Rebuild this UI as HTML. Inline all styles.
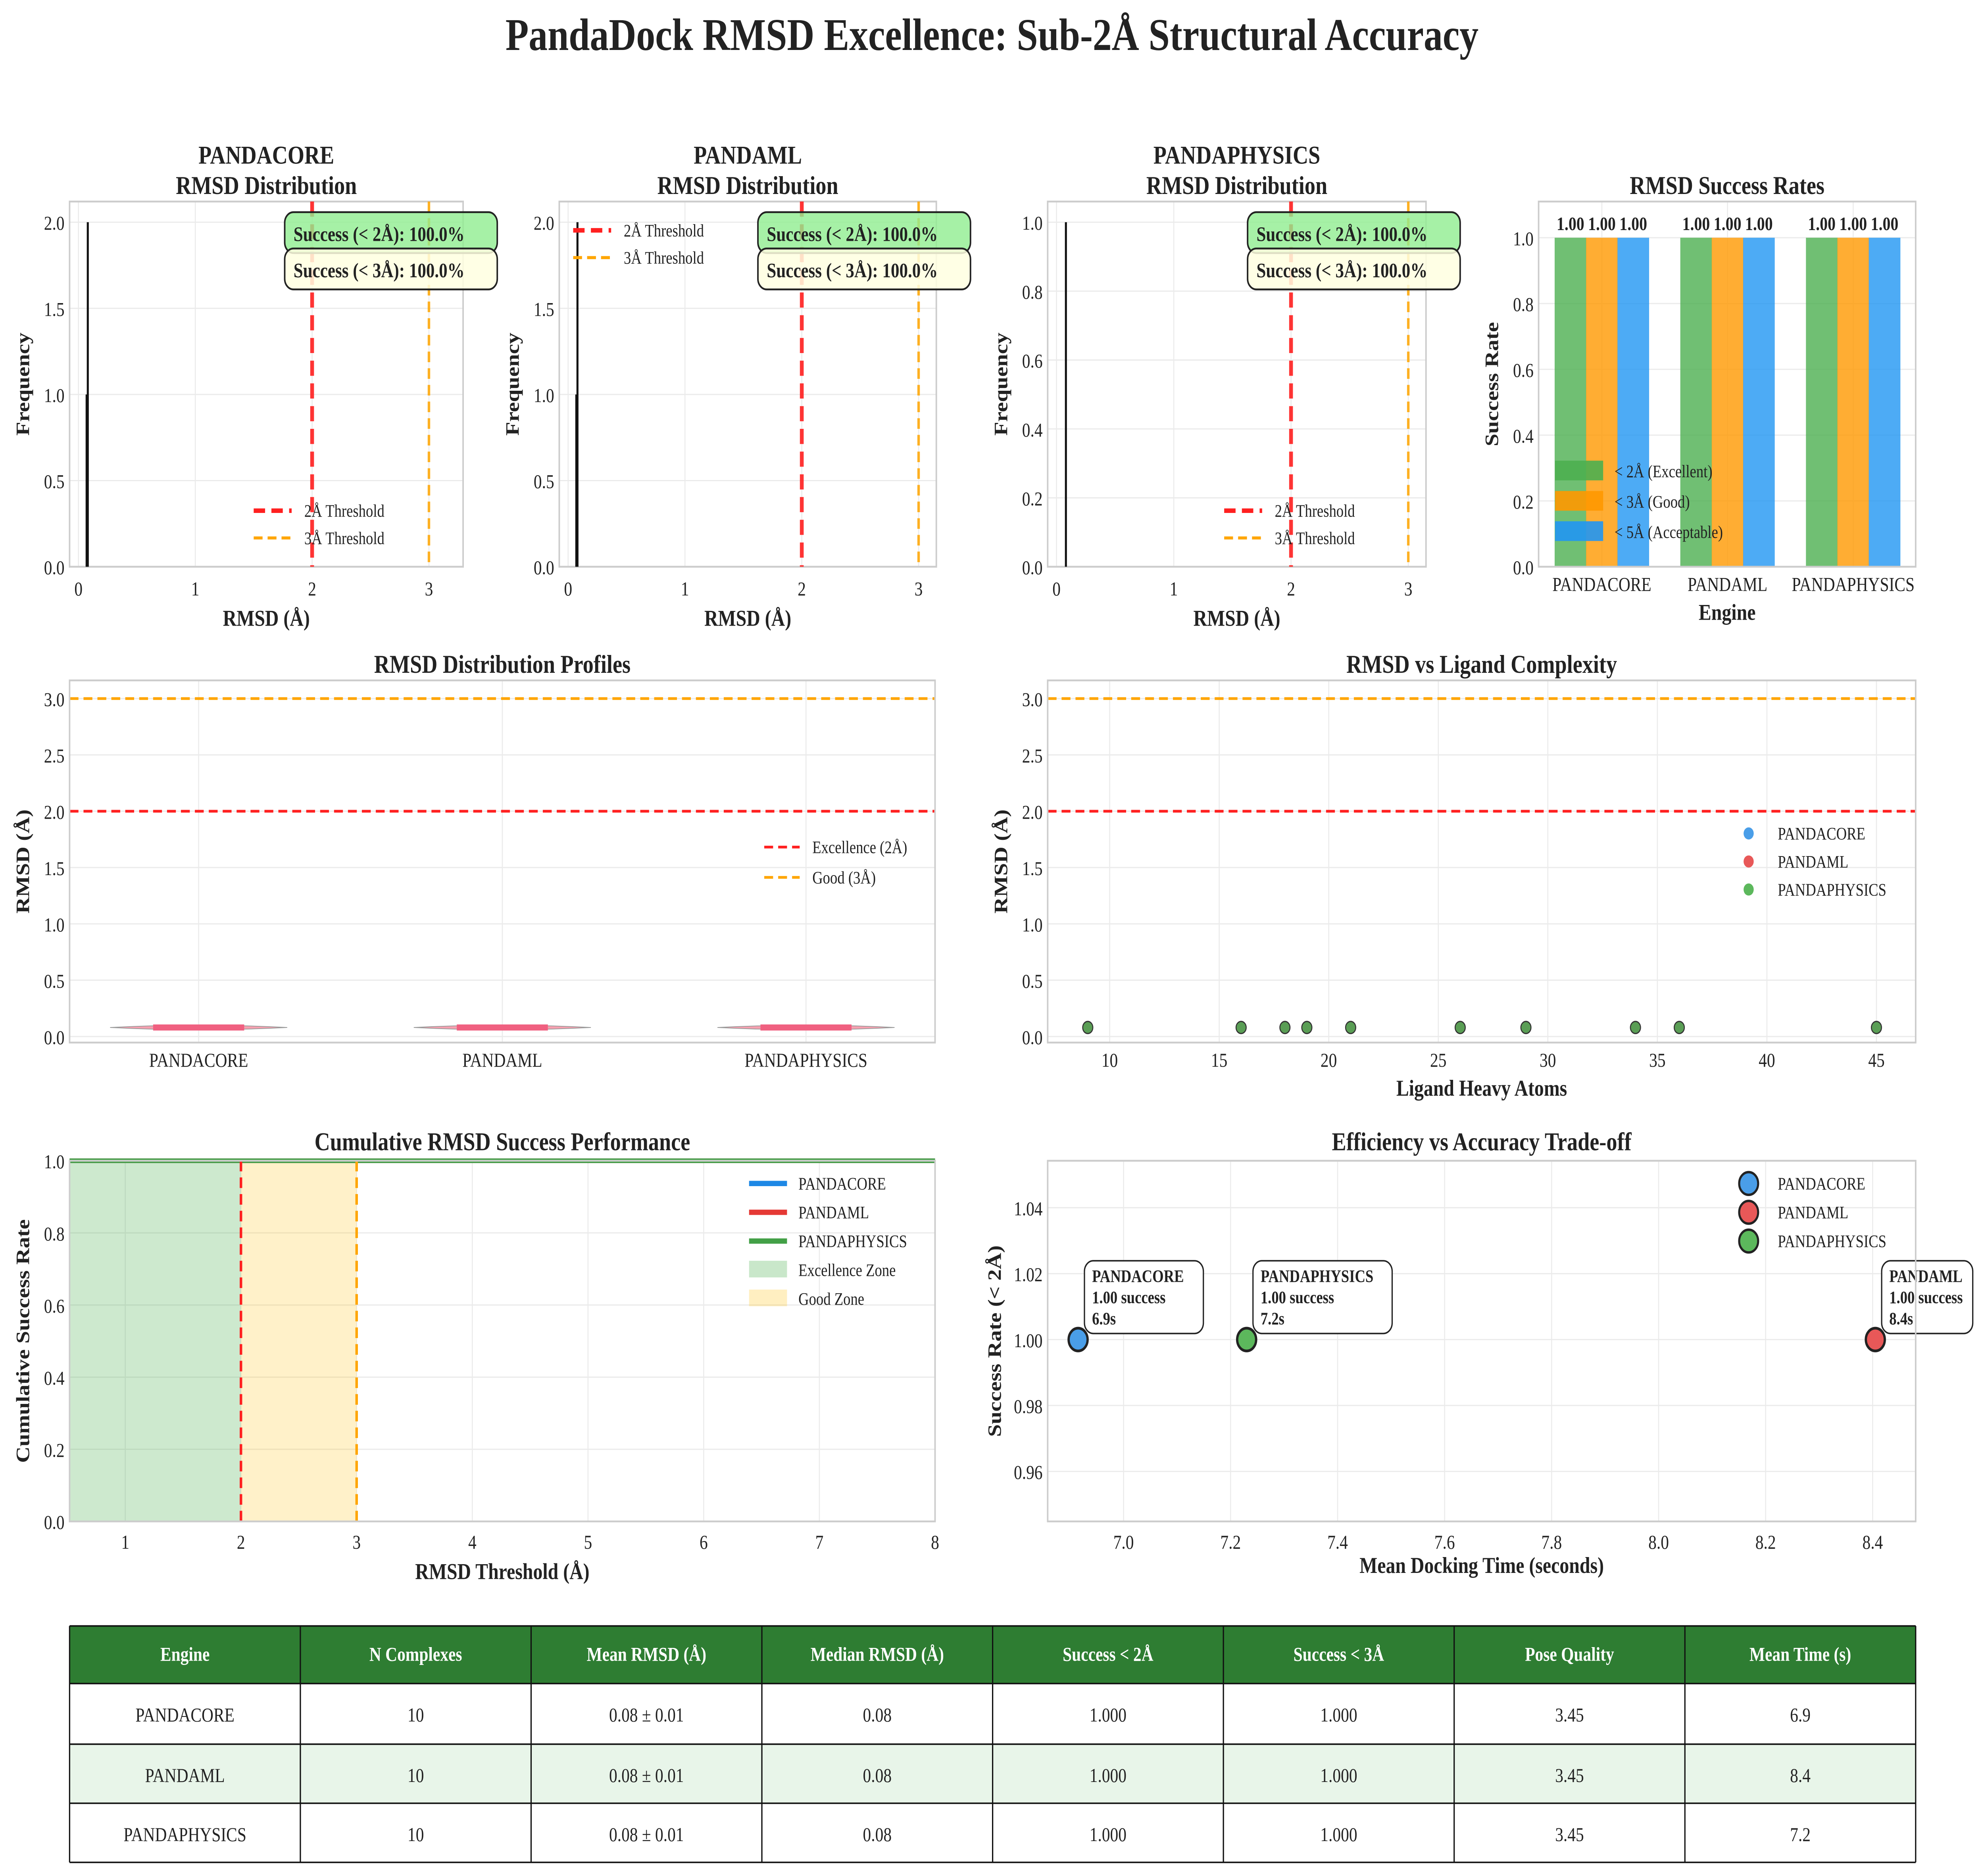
<!DOCTYPE html>
<html><head><meta charset="utf-8">
<style>
html,body{margin:0;padding:0;background:#fff;overflow:hidden;width:100%;height:100%;}
svg{display:block;position:absolute;left:0;top:0;width:100vw;height:100vh;font-family:"Liberation Serif","DejaVu Serif",serif;}
</style></head>
<body>
<svg id="fig" viewBox="0 0 1568 1238" preserveAspectRatio="none" xmlns="http://www.w3.org/2000/svg">
<text x="784" y="33" text-anchor="middle" font-size="30" font-weight="bold" fill="#222" font-family="Liberation Serif, serif">PandaDock RMSD Excellence: Sub-2Å Structural Accuracy</text>
</svg>
<script>
// ---------- DATA ----------
const engines = ["PANDACORE","PANDAML","PANDAPHYSICS"];
const histRmsd = [[0.07,0.08],[0.07,0.08],[0.08]];
const histCounts = [[1,2],[1,2],[1]];
const successCats = ["< 2Å (Excellent)","< 3Å (Good)","< 5Å (Acceptable)"];
const successVals = [[1.0,1.0,1.0],[1.0,1.0,1.0],[1.0,1.0,1.0]];
const violinMedian = [0.08,0.08,0.08];
const heavyAtoms = [9,16,18,19,21,26,29,34,36,45];
const complexRmsd = [0.08,0.08,0.08,0.08,0.08,0.08,0.08,0.08,0.08,0.08];
const cumThresholds = [0.5,1,2,3,4,5,6,7,8];
const cumCore = [1,1,1,1,1,1,1,1,1];
const cumML = [1,1,1,1,1,1,1,1,1];
const cumPhys = [1,1,1,1,1,1,1,1,1];
const meanTimes = [6.915,8.405,7.23];
const successRates = [1.0,1.0,1.0];
const timeLabels = ["6.9s","8.4s","7.2s"];
const tableHeader = ["Engine","N Complexes","Mean RMSD (Å)","Median RMSD (Å)","Success < 2Å","Success < 3Å","Pose Quality","Mean Time (s)"];
const tableRows = [
 ["PANDACORE","10","0.08 ± 0.01","0.08","1.000","1.000","3.45","6.9"],
 ["PANDAML","10","0.08 ± 0.01","0.08","1.000","1.000","3.45","8.4"],
 ["PANDAPHYSICS","10","0.08 ± 0.01","0.08","1.000","1.000","3.45","7.2"]];

// ---------- HELPERS ----------
const NS="http://www.w3.org/2000/svg";
const svg=document.getElementById('fig');
function el(tag,attrs,parent,text){
  const e=document.createElementNS(NS,tag);
  for(const k in attrs) e.setAttribute(k,attrs[k]);
  if(text!==undefined) e.textContent=text;
  (parent||svg).appendChild(e);
  return e;
}
function lin(d0,d1,r0,r1){return v=>r0+(v-d0)*(r1-r0)/(d1-d0);}
function frame(x0,y0,x1,y1,name){
  const r=el('rect',{x:x0,y:y0,width:x1-x0,height:y1-y0,fill:'none',stroke:'#ccc','stroke-width':1.2});
  
  
}
function grid(x0,y0,x1,y1,xs,ys){
  xs.forEach(x=>{const g=el('line',{x1:x,x2:x,y1:y0,y2:y1,stroke:'#ebebeb','stroke-width':0.8});});
  ys.forEach(y=>{const g=el('line',{x1:x0,x2:x1,y1:y,y2:y,stroke:'#ebebeb','stroke-width':0.8});});
}
function txt(x,y,s,opt){
  opt=opt||{};
  const t=el('text',{x:x,y:y,'font-size':opt.size||13,'text-anchor':opt.anchor||'middle',fill:opt.fill||'#222','font-weight':opt.bold?'bold':'normal','font-family':'Liberation Serif, serif'},null,s);
  if(opt.rot) t.setAttribute('transform',`rotate(-90 ${x} ${y})`);
  
  
  return t;
}
function fmt(v,d){return v.toFixed(d);}

// ---------- ROW 1: HISTOGRAMS ----------
const histPanels=[
 {x0:55,x1:366,zero:62,three:339,ymax:2.12,yt:[0,0.5,1,1.5,2],legendPos:'bottom'},
 {x0:442,x1:740,zero:449,three:726,ymax:2.12,yt:[0,0.5,1,1.5,2],legendPos:'top'},
 {x0:828,x1:1127,zero:835,three:1113,ymax:1.06,yt:[0,0.2,0.4,0.6,0.8,1.0],legendPos:'bottom'}];
histPanels.forEach((p,i)=>{
  const y0=133,y1=374;
  const X=lin(0,3,p.zero,p.three), Y=lin(0,p.ymax,y1,y0);
  const cx=(p.x0+p.x1)/2;
  txt(cx,108,engines[i],{size:17,bold:true,name:'hist-title'});
  txt(cx,128,'RMSD Distribution',{size:17,bold:true,name:'hist-subtitle'});
  grid(p.x0,y0,p.x1,y1,[0,1,2,3].map(X),p.yt.map(Y));
  frame(p.x0,y0,p.x1,y1,'hist-axes-'+engines[i].toLowerCase());
  [0,1,2,3].forEach(v=>txt(X(v),393,String(v),{size:13,name:'x-tick-label'}));
  p.yt.forEach(v=>txt(p.x0-4,Y(v)+5,fmt(v,1),{size:13,anchor:'end',name:'y-tick-label'}));
  txt(cx,413,'RMSD (Å)',{size:15,bold:true,name:'x-axis-title'});
  txt(p.x0-32,(y0+y1)/2,'Frequency',{size:15,bold:true,rot:true,name:'y-axis-title'});
  histRmsd[i].forEach((r,k)=>{
    const b=el('rect',{x:X(r)-0.8,y:Y(histCounts[i][k]),width:1.6,height:y1-Y(histCounts[i][k]),fill:'#111'});
    
    
  });
  const l2=el('line',{x1:X(2),x2:X(2),y1:y0,y2:y1,stroke:'#ff2020','stroke-width':3,'stroke-dasharray':'10,5','opacity':0.9});
  
  
  const l3=el('line',{x1:X(3),x2:X(3),y1:y0,y2:y1,stroke:'#ffa500','stroke-width':2,'stroke-dasharray':'7,4','opacity':0.85});
  
  
  const bx=p.x1-141;
  const g1=el('rect',{x:bx,y:140,width:168,height:27,rx:7,fill:'#90ee90','fill-opacity':0.8,stroke:'#222','stroke-width':1.2});
  
  
  txt(bx+7,159,'Success (< 2Å): 100.0%',{size:13.5,bold:true,anchor:'start',name:'success-2a-text'});
  const g2=el('rect',{x:bx,y:164,width:168,height:27,rx:7,fill:'#ffffe0','fill-opacity':0.85,stroke:'#222','stroke-width':1.2});
  
  
  txt(bx+7,183,'Success (< 3Å): 100.0%',{size:13.5,bold:true,anchor:'start',name:'success-3a-text'});
  let lx,ly;
  if(p.legendPos==='bottom'){lx=cx-10;ly=337;}else{lx=p.x0+11;ly=152;}
  const a=el('line',{x1:lx,x2:lx+30,y1:ly,y2:ly,stroke:'#ff2020','stroke-width':3,'stroke-dasharray':'9,5'});
  
  
  txt(lx+40,ly+4,'2Å Threshold',{size:11.5,anchor:'start',name:'legend-2a-label'});
  const b=el('line',{x1:lx,x2:lx+30,y1:ly+18,y2:ly+18,stroke:'#ffa500','stroke-width':2,'stroke-dasharray':'7,4'});
  
  
  txt(lx+40,ly+22,'3Å Threshold',{size:11.5,anchor:'start',name:'legend-3a-label'});
});

// ---------- ROW 1: SUCCESS RATES BAR ----------
(function(){
  const x0=1216,x1=1514,y0=133,y1=374;
  const X=lin(0,1,1266,1365.3), Y=lin(0,1.11,y1,y0);
  const colors=['#4caf50','#ff9800','#2196f3'];
  txt(1365,128,'RMSD Success Rates',{size:17,bold:true,name:'success-title'});
  grid(x0,y0,x1,y1,[0,1,2].map(X),[0,0.2,0.4,0.6,0.8,1.0].map(Y));
  [0,0.2,0.4,0.6,0.8,1.0].forEach(v=>txt(x0-4,Y(v)+5,fmt(v,1),{size:13,anchor:'end',name:'y-tick-label'}));
  engines.forEach((e,i)=>{
    txt(X(i),390,e,{size:13,name:'x-tick-label'});
    successVals[i].forEach((v,j)=>{
      const xc=X(i+(j-1)*0.25);
      const r=el('rect',{x:xc-12.5,y:Y(v),width:25,height:y1-Y(v),fill:colors[j],'fill-opacity':0.8});
      
      
      txt(xc,Y(v)-5,fmt(v,2),{size:12.5,bold:true,name:'bar-value-label'});
    });
  });
  frame(x0,y0,x1,y1,'success-axes');
  txt(1365,409,'Engine',{size:15,bold:true,name:'x-axis-title'});
  txt(x0-32,(y0+y1)/2,'Success Rate',{size:15,bold:true,rot:true,name:'y-axis-title'});
  successCats.forEach((c,j)=>{
    const r=el('rect',{x:1229,y:310+j*20-6,width:38,height:13,fill:colors[j],'fill-opacity':0.9});
    
    
    txt(1276,310+j*20+5,c,{size:11.5,anchor:'start',name:'legend-label'});
  });
})();

// ---------- ROW 2 LEFT: VIOLIN ----------
(function(){
  const x0=55,x1=739,y0=449,y1=688;
  const X=lin(0,1,157,397), Y=lin(0,3,684,461);
  txt(397,444,'RMSD Distribution Profiles',{size:17,bold:true,name:'violin-title'});
  grid(x0,y0,x1,y1,[0,1,2].map(X),[0,0.5,1,1.5,2,2.5,3].map(Y));
  [0,0.5,1,1.5,2,2.5,3].forEach(v=>txt(x0-4,Y(v)+5,fmt(v,1),{size:13,anchor:'end',name:'y-tick-label'}));
  engines.forEach((e,i)=>{
    txt(X(i),704,e,{size:13,name:'x-tick-label'});
    const cx=X(i),cy=Y(violinMedian[i]);
    const p=el('path',{d:`M${cx-70},${cy} Q${cx},${cy-3} ${cx+70},${cy} Q${cx},${cy+3} ${cx-70},${cy}Z`,fill:'#f8a0b0',stroke:'#999','stroke-width':0.5});
    
    
    const m=el('rect',{x:cx-36,y:cy-2,width:72,height:4,fill:'#f06080'});
    
    
  });
  const a=el('line',{x1:x0,x2:x1,y1:Y(2),y2:Y(2),stroke:'#ff2020','stroke-width':1.8,'stroke-dasharray':'7,4'});
  
  
  const b=el('line',{x1:x0,x2:x1,y1:Y(3),y2:Y(3),stroke:'#ffa500','stroke-width':1.8,'stroke-dasharray':'7,4'});
  
  
  frame(x0,y0,x1,y1,'violin-axes');
  txt(x0-32,(y0+y1)/2,'RMSD (Å)',{size:15,bold:true,rot:true,name:'y-axis-title'});
  const l1=el('line',{x1:604,x2:632,y1:559,y2:559,stroke:'#ff2020','stroke-width':1.8,'stroke-dasharray':'7,4'});
  
  
  txt(642,563,'Excellence (2Å)',{size:11.5,anchor:'start',name:'legend-label'});
  const l2=el('line',{x1:604,x2:632,y1:579,y2:579,stroke:'#ffa500','stroke-width':1.8,'stroke-dasharray':'7,4'});
  
  
  txt(642,583,'Good (3Å)',{size:11.5,anchor:'start',name:'legend-label'});
})();

// ---------- ROW 2 RIGHT: SCATTER ----------
(function(){
  const x0=828,x1=1514,y0=449,y1=688;
  const X=lin(10,45,877,1483), Y=lin(0,3,684,461);
  txt(1171,444,'RMSD vs Ligand Complexity',{size:17,bold:true,name:'scatter-title'});
  const xt=[10,15,20,25,30,35,40,45];
  grid(x0,y0,x1,y1,xt.map(X),[0,0.5,1,1.5,2,2.5,3].map(Y));
  xt.forEach(v=>txt(X(v),704,String(v),{size:13,name:'x-tick-label'}));
  [0,0.5,1,1.5,2,2.5,3].forEach(v=>txt(x0-4,Y(v)+5,fmt(v,1),{size:13,anchor:'end',name:'y-tick-label'}));
  const a=el('line',{x1:x0,x2:x1,y1:Y(2),y2:Y(2),stroke:'#ff2020','stroke-width':1.8,'stroke-dasharray':'7,4'});
  
  
  const b=el('line',{x1:x0,x2:x1,y1:Y(3),y2:Y(3),stroke:'#ffa500','stroke-width':1.8,'stroke-dasharray':'7,4'});
  
  
  heavyAtoms.forEach((h,k)=>{
    const c=el('circle',{cx:X(h),cy:Y(complexRmsd[k]),r:4,fill:'#5a9e55',stroke:'#333','stroke-width':0.8});
    
    
  });
  frame(x0,y0,x1,y1,'scatter-axes');
  txt(1171,723,'Ligand Heavy Atoms',{size:15,bold:true,name:'x-axis-title'});
  txt(x0-32,(y0+y1)/2,'RMSD (Å)',{size:15,bold:true,rot:true,name:'y-axis-title'});
  const cols=['#4a9ee8','#e85858','#5cb85c'];
  engines.forEach((e,i)=>{
    const c=el('circle',{cx:1382,cy:550+i*18.5,r:4,fill:cols[i]});
    
    
    txt(1405,554+i*18.5,e,{size:11.5,anchor:'start',name:'legend-label'});
  });
})();

// ---------- ROW 3 LEFT: CUMULATIVE ----------
(function(){
  const x0=55,x1=739,y0=766,y1=1004;
  const X=lin(1,8,99,739), Y=lin(0,1,y1,y0);
  txt(397,759,'Cumulative RMSD Success Performance',{size:17,bold:true,name:'cumulative-title'});
  const xt=[1,2,3,4,5,6,7,8], yt=[0,0.2,0.4,0.6,0.8,1.0];
  grid(x0,y0,x1,y1,xt.map(X),yt.map(Y));
  const z1=el('rect',{x:x0,y:y0,width:X(2)-x0,height:y1-y0,fill:'#4caf50','fill-opacity':0.28});
  
  
  const z2=el('rect',{x:X(2),y:y0,width:X(3)-X(2),height:y1-y0,fill:'#ffc107','fill-opacity':0.22});
  
  
  xt.forEach(v=>txt(X(v),1022,String(v),{size:13,name:'x-tick-label'}));
  yt.forEach(v=>txt(x0-4,Y(v)+5,fmt(v,1),{size:13,anchor:'end',name:'y-tick-label'}));
  const series=[[cumCore,'#1e88e5'],[cumML,'#e53935'],[cumPhys,'#43a047']];
  series.forEach((s,i)=>{
    const pts=cumThresholds.map((t,k)=>`${Math.max(x0,X(t))},${Y(s[0][k])}`).join(' ');
    const pl=el('polyline',{points:pts,fill:'none',stroke:s[1],'stroke-width':3});
    
    
  });
  const a=el('line',{x1:X(2),x2:X(2),y1:y0,y2:y1,stroke:'#ff2020','stroke-width':2,'stroke-dasharray':'7,4'});
  
  
  const b=el('line',{x1:X(3),x2:X(3),y1:y0,y2:y1,stroke:'#ffa500','stroke-width':2,'stroke-dasharray':'7,4'});
  
  
  frame(x0,y0,x1,y1,'cumulative-axes');
  txt(397,1042,'RMSD Threshold (Å)',{size:15,bold:true,name:'x-axis-title'});
  txt(x0-32,(y0+y1)/2,'Cumulative Success Rate',{size:15,bold:true,rot:true,name:'y-axis-title'});
  const cols=['#1e88e5','#e53935','#43a047'];
  engines.forEach((e,i)=>{
    const l=el('line',{x1:592,x2:622,y1:781+i*19,y2:781+i*19,stroke:cols[i],'stroke-width':3.5});
    
    
    txt(631,785+i*19,e,{size:11.5,anchor:'start',name:'legend-label'});
  });
  const s1=el('rect',{x:592,y:832,width:30,height:11,fill:'#4caf50','fill-opacity':0.3});
  
  
  txt(631,842,'Excellence Zone',{size:11.5,anchor:'start',name:'legend-label'});
  const s2=el('rect',{x:592,y:851,width:30,height:11,fill:'#ffc107','fill-opacity':0.25});
  
  
  txt(631,861,'Good Zone',{size:11.5,anchor:'start',name:'legend-label'});
})();

// ---------- ROW 3 RIGHT: EFFICIENCY ----------
(function(){
  const x0=828,x1=1514,y0=766,y1=1004;
  const X=lin(7.0,8.4,888,1480), Y=lin(1.0,1.04,884,797);
  txt(1171,759,'Efficiency vs Accuracy Trade-off',{size:17,bold:true,name:'efficiency-title'});
  const xt=[7.0,7.2,7.4,7.6,7.8,8.0,8.2,8.4], yt=[0.96,0.98,1.0,1.02,1.04];
  grid(x0,y0,x1,y1,xt.map(X),yt.map(Y));
  xt.forEach(v=>txt(X(v),1022,fmt(v,1),{size:13,name:'x-tick-label'}));
  yt.forEach(v=>txt(x0-4,Y(v)+5,fmt(v,2),{size:13,anchor:'end',name:'y-tick-label'}));
  const cols=['#4a9ee8','#e85858','#5cb85c'];
  engines.forEach((e,i)=>{
    const px=X(meanTimes[i]),py=Y(successRates[i]);
    const c=el('circle',{cx:px,cy:py,r:7.5,fill:cols[i],stroke:'#222','stroke-width':1.8});
    
    
    const bw=e==='PANDAPHYSICS'?110:e==='PANDAML'?72:94;
    const bx=px+5,by=py-52;
    const r=el('rect',{x:bx,y:by,width:bw,height:48,rx:7,fill:'#fff',stroke:'#222','stroke-width':1});
    
    
    txt(bx+6,by+14,e,{size:11.5,bold:true,anchor:'start',name:'annotation-engine'});
    txt(bx+6,by+28,fmt(successRates[i],2)+' success',{size:11.5,bold:true,anchor:'start',name:'annotation-success'});
    txt(bx+6,by+42,timeLabels[i],{size:11.5,bold:true,anchor:'start',name:'annotation-time'});
  });
  frame(x0,y0,x1,y1,'efficiency-axes');
  txt(1171,1038,'Mean Docking Time (seconds)',{size:15,bold:true,name:'x-axis-title'});
  txt(x0-37,(y0+y1)/2,'Success Rate (< 2Å)',{size:15,bold:true,rot:true,name:'y-axis-title'});
  engines.forEach((e,i)=>{
    const c=el('circle',{cx:1382,cy:781+i*19,r:7.5,fill:cols[i],stroke:'#222','stroke-width':1.6});
    
    
    txt(1405,785+i*19,e,{size:11.5,anchor:'start',name:'legend-label'});
  });
})();

// ---------- TABLE ----------
(function(){
  const x0=55,x1=1514,cw=(x1-x0)/8;
  const rowsY=[1073,1111,1151,1190,1229];
  const hb=el('rect',{x:x0,y:rowsY[0],width:x1-x0,height:rowsY[1]-rowsY[0],fill:'#2e7d32'});
  
  
  tableHeader.forEach((h,c)=>txt(x0+cw*(c+0.5),rowsY[0]+23,h,{size:13,bold:true,fill:'#fff',name:'table-header-cell'}));
  tableRows.forEach((row,r)=>{
    const bg=el('rect',{x:x0,y:rowsY[r+1],width:x1-x0,height:rowsY[r+2]-rowsY[r+1],fill:r%2===1?'#e8f5e9':'#fff'});
    
    
    row.forEach((v,c)=>txt(x0+cw*(c+0.5),rowsY[r+1]+25,v,{size:13,name:'table-cell'}));
  });
  rowsY.forEach(y=>{const l=el('line',{x1:x0,x2:x1,y1:y,y2:y,stroke:'#111','stroke-width':1});});
  for(let c=0;c<=8;c++){const l=el('line',{x1:x0+cw*c,x2:x0+cw*c,y1:rowsY[0],y2:rowsY[4],stroke:'#111','stroke-width':1});}
})();
</script>
</body></html>
